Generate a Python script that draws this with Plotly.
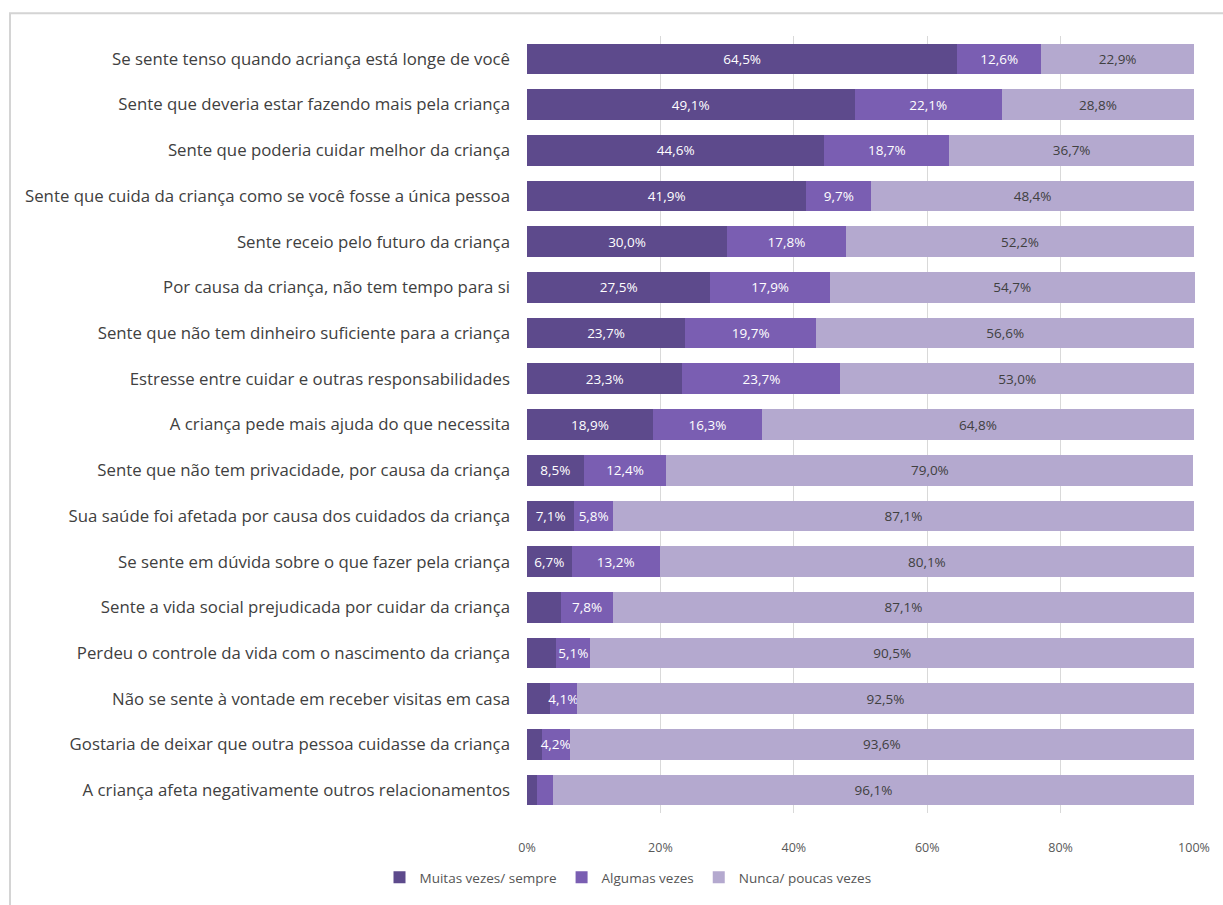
import plotly.graph_objects as go

# Survey items (top to bottom as displayed)
items = [
    "Se sente tenso quando acriança está longe de você",
    "Sente que deveria estar fazendo mais pela criança",
    "Sente que poderia cuidar melhor da criança",
    "Sente que cuida da criança como se você fosse a única pessoa",
    "Sente receio pelo futuro da criança",
    "Por causa da criança, não tem tempo para si",
    "Sente que não tem dinheiro suficiente para a criança",
    "Estresse entre cuidar e outras responsabilidades",
    "A criança pede mais ajuda do que necessita",
    "Sente que não tem privacidade, por causa da criança",
    "Sua saúde foi afetada por causa dos cuidados da criança",
    "Se sente em dúvida sobre o que fazer pela criança",
    "Sente a vida social prejudicada por cuidar da criança",
    "Perdeu o controle da vida com o nascimento da criança",
    "Não se sente à vontade em receber visitas em casa",
    "Gostaria de deixar que outra pessoa cuidasse da criança",
    "A criança afeta negativamente outros relacionamentos",
]

muitas = [64.5, 49.1, 44.6, 41.9, 30.0, 27.5, 23.7, 23.3, 18.9, 8.5, 7.1, 6.7, 5.1, 4.4, 3.4, 2.2, 1.5]
algumas = [12.6, 22.1, 18.7, 9.7, 17.8, 17.9, 19.7, 23.7, 16.3, 12.4, 5.8, 13.2, 7.8, 5.1, 4.1, 4.2, 2.4]
nunca = [22.9, 28.8, 36.7, 48.4, 52.2, 54.7, 56.6, 53.0, 64.8, 79.0, 87.1, 80.1, 87.1, 90.5, 92.5, 93.6, 96.1]

# which segment values carry a printed label
show_muitas = [True] * 12 + [False] * 5
show_algumas = [True] * 16 + [False]
show_nunca = [True] * 17

series_names = ["Muitas vezes/ sempre", "Algumas vezes", "Nunca/ poucas vezes"]
colors = ["#5d4a8c", "#7a5eb2", "#b4a9cf"]
text_colors = ["white", "white", "#404040"]

x_ticks = [0, 20, 40, 60, 80, 100]
x_tick_labels = ["0%", "20%", "40%", "60%", "80%", "100%"]

FONT = "'Open Sans', Lato, sans-serif"


def fmt(v, show):
    return (f"{v:.1f}".replace(".", ",") + "%") if show else ""


fig = go.Figure()
for name, vals, shows, col, tcol in zip(
    series_names,
    [muitas, algumas, nunca],
    [show_muitas, show_algumas, show_nunca],
    colors,
    text_colors,
):
    fig.add_trace(
        go.Bar(
            name=name,
            y=items,
            x=vals,
            orientation="h",
            marker=dict(color=col, line=dict(width=0)),
            text=[fmt(v, s) for v, s in zip(vals, shows)],
            textposition="inside",
            insidetextanchor="middle",
            textangle=0,
            textfont=dict(color=tcol, size=13.5, family=FONT),
            constraintext="none",
            cliponaxis=False,
            hoverinfo="skip",
        )
    )

# pixel layout of the plotting area
L, R, T, B = 527, 1195, 36, 819
W, H = 1223, 905
pw, ph = R - L, B - T


def px_x(p):
    return (p - L) / pw


def px_y(p):
    return (B - p) / ph


# light outer frame around the chart
fig.add_shape(
    type="rect",
    xref="paper", yref="paper",
    x0=px_x(10), x1=px_x(1240), y0=px_y(920), y1=px_y(13),
    line=dict(color="#d4d4d4", width=2),
    fillcolor="rgba(0,0,0,0)",
    layer="below",
)

fig.update_layout(
    barmode="stack",
    bargap=0.33,
    width=W,
    height=H,
    margin=dict(l=L, r=W - R, t=T, b=H - B, pad=0),
    paper_bgcolor="white",
    plot_bgcolor="white",
    font=dict(family=FONT, color="#404040"),
    showlegend=True,
    legend=dict(
        orientation="h",
        x=px_x(628),
        xanchor="center",
        y=px_y(884),
        yanchor="middle",
        font=dict(size=13.5, color="#555555", family=FONT),
        traceorder="normal",
        itemsizing="constant",
        itemwidth=30,
    ),
    xaxis=dict(
        range=[0, 100.15],
        tickvals=x_ticks,
        ticktext=x_tick_labels,
        showgrid=True,
        gridcolor="#d9d9d9",
        gridwidth=1,
        zeroline=False,
        showline=False,
        tickfont=dict(size=12.5, color="#595959", family=FONT),
        ticks="",
        ticklabelstandoff=25,
        fixedrange=True,
    ),
    yaxis=dict(
        categoryorder="array",
        categoryarray=items[::-1],
        autorange=True,
        tickfont=dict(size=16.8, color="#404040", family=FONT),
        ticks="",
        ticklabelstandoff=16,
        showgrid=False,
        zeroline=False,
        showline=False,
    ),
)

fig.write_html("out.html")
